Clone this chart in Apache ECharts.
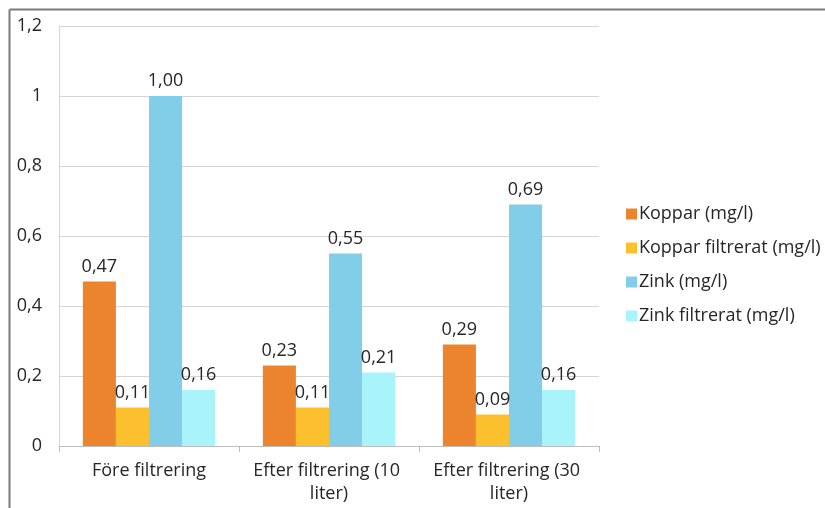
<!DOCTYPE html>
<html>
<head>
<meta charset="utf-8">
<script src="https://cdn.jsdelivr.net/npm/echarts@6/dist/echarts.min.js"></script>
<style>
  html, body { margin: 0; padding: 0; background: #fff; }
  #chart { width: 825px; height: 508px; }
</style>
</head>
<body>
<div id="chart"></div>
<script>
// Metal concentrations before and after filtering
const categories = ['Före filtrering', 'Efter filtrering (10 liter)', 'Efter filtrering (30 liter)'];
const seriesNames = ['Koppar (mg/l)', 'Koppar filtrerat (mg/l)', 'Zink (mg/l)', 'Zink filtrerat (mg/l)'];
const koppar = [0.47, 0.23, 0.29];
const kopparFiltrerat = [0.11, 0.11, 0.09];
const zink = [1.00, 0.55, 0.69];
const zinkFiltrerat = [0.16, 0.21, 0.16];
const colors = ['#EC842E', '#FCC02F', '#82CDE8', '#A9F3FB'];

const FONT = 'Open Sans';
const FS = 18;
const TXT = '#262626';
const fmt = v => v.toFixed(2).replace('.', ',');

const values = [koppar, kopparFiltrerat, zink, zinkFiltrerat];

const chart = echarts.init(document.getElementById('chart'));
chart.setOption({
  animation: false,
  textStyle: { fontFamily: FONT },
  graphic: [
    { type: 'line', shape: { x1: 9.5, y1: 9.5, x2: 825, y2: 9.5 }, style: { stroke: '#7a7a7a', lineWidth: 2 } },
    { type: 'line', shape: { x1: 9.5, y1: 9.5, x2: 9.5, y2: 508 }, style: { stroke: '#7a7a7a', lineWidth: 2 } }
  ],
  grid: { left: 59, top: 26, width: 540, height: 420, containLabel: false },
  legend: {
    orient: 'vertical',
    left: 621,
    top: 200,
    itemWidth: 11,
    itemHeight: 11,
    itemGap: 16,
    icon: 'rect',
    textStyle: { fontFamily: FONT, fontSize: FS, color: TXT, padding: [0, 0, 0, -3] },
    data: seriesNames
  },
  xAxis: {
    type: 'category',
    data: categories,
    axisLine: { lineStyle: { color: '#bdbdbd', width: 1 } },
    axisTick: { show: true, length: 6, lineStyle: { color: '#bdbdbd' } },
    axisLabel: {
      interval: 0,
      fontFamily: FONT, fontSize: FS, color: TXT, margin: 13,
      width: 172, overflow: 'break', lineHeight: 23
    }
  },
  yAxis: {
    type: 'value',
    min: 0, max: 1.2, interval: 0.2,
    axisLine: { show: true, lineStyle: { color: '#d5d5d5' } },
    axisTick: { show: false },
    splitLine: { lineStyle: { color: '#d5d5d5', width: 1 } },
    axisLabel: {
      fontFamily: FONT, fontSize: FS, color: TXT, margin: 17,
      formatter: v => String(Math.round(v * 10) / 10).replace('.', ',')
    }
  },
  series: seriesNames.map((name, i) => ({
    name,
    type: 'bar',
    data: values[i],
    barGap: '0%',
    barCategoryGap: '26.5%',
    itemStyle: { color: colors[i] },
    label: {
      show: true, position: 'top', distance: 6,
      fontFamily: FONT, fontSize: FS, color: TXT,
      formatter: p => fmt(p.value)
    }
  }))
});
</script>
</body>
</html>
